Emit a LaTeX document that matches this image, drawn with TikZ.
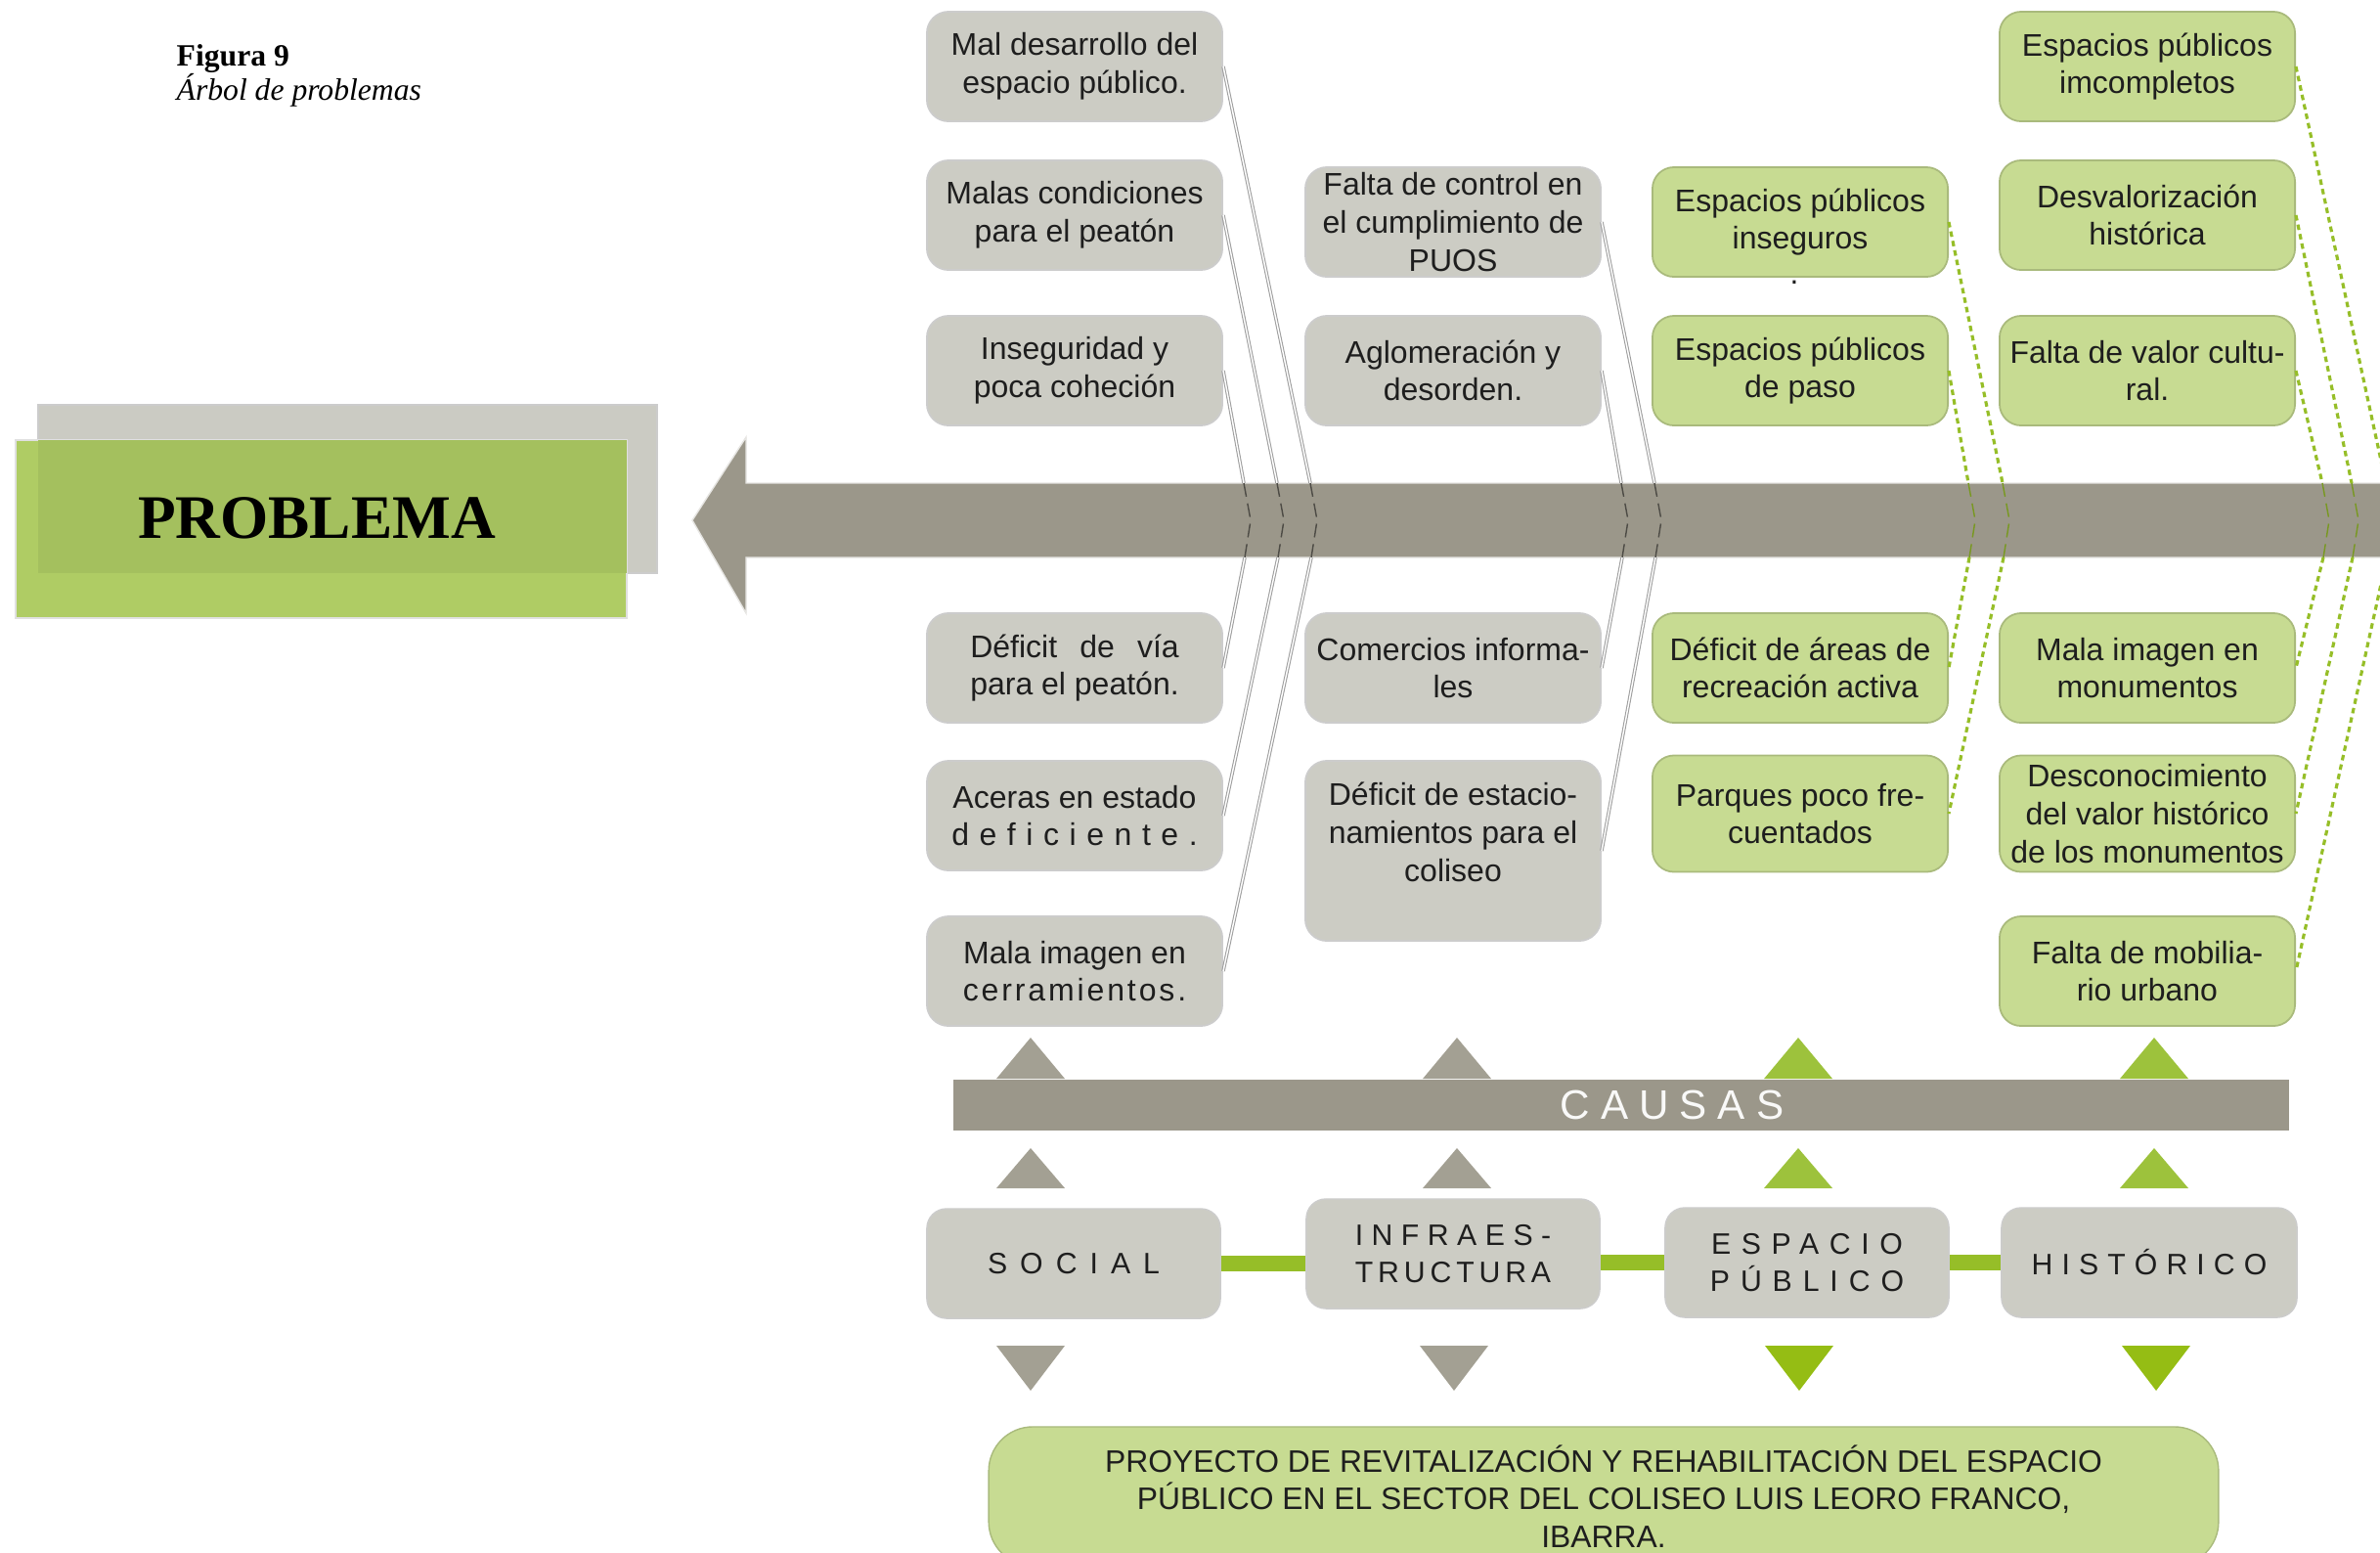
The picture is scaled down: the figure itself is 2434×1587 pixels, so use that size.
\documentclass[tikz,border=0pt]{standalone}
\usepackage{fontspec}
\usepackage{calc}
\setmainfont{Liberation Sans}
\newfontfamily\titlefont{Liberation Serif}

\definecolor{boxgray}{RGB}{204,204,196}
\definecolor{boxgreen}{RGB}{199,219,146}
\definecolor{spine}{RGB}{155,151,138}
\definecolor{trigray}{RGB}{163,160,147}
\definecolor{trigreen}{RGB}{157,194,60}
\definecolor{downgreen}{RGB}{149,189,20}
\definecolor{linkgreen}{RGB}{150,190,40}
\definecolor{probgreen}{RGB}{175,204,100}
\definecolor{probgray}{RGB}{203,203,195}
\definecolor{txt}{RGB}{30,30,30}

\newcommand{\tracked}[2]{{\addfontfeature{LetterSpace=#1}#2}}
\newcommand{\spreadas}[2]{\makebox[\widthof{#1}][s]{#2}}

\tikzset{
	cause/.style={rounded corners=0.22cm, minimum width=3.02cm, minimum height=1.12cm, align=center, inner sep=0pt, text=txt, font=\fontsize{9.1}{11}\selectfont, line width=0.5pt},
	graybox/.style={cause, fill=boxgray, draw=black!20},
	greenbox/.style={cause, fill=boxgreen, draw=boxgreen!85!black},
	area/.style={rounded corners=0.2cm, minimum width=3cm, minimum height=1.12cm, align=center, inner sep=0pt, fill=boxgray, draw=black!20, text=txt, font=\fontsize{8.6}{11}\selectfont},
	gray link/.style={draw=black!38, double=white, double distance=0.4pt, line width=0.3pt},
	gray chev/.style={draw=black!50!spine, line width=0.4pt, dash pattern=on 4pt off 2pt},
	green link/.style={draw=linkgreen, line width=0.9pt, dash pattern=on 1.6pt off 1.2pt},
	green chev/.style={draw=linkgreen!80!black, line width=0.4pt, dash pattern=on 4pt off 2pt},
}

\begin{document}
\begin{tikzpicture}[x=0.01cm, y=-0.01cm]
	\useasboundingbox (0,0) rectangle (2434,1587);

	% titulo
	\node[anchor=base west, inner sep=0pt, font=\titlefont\fontsize{9}{11}\selectfont\bfseries] (fig) at (180,67) {Figura 9};
	\node[anchor=base west, inner sep=0pt, font=\titlefont\fontsize{9}{11}\selectfont\itshape] (cap) at (180,102) {Árbol de problemas};

	% problema
	\fill[probgray, draw=black!20] (39,414) rectangle (672,586);
	\node[fill=probgreen, draw=black!12, minimum width=6.25cm, minimum height=1.82cm, inner sep=0pt] (problema) at (328.5,541) {};
	\fill[probgreen!94!black] (39,450) rectangle (641,586);
	\node[font=\titlefont\fontsize{18}{18}\selectfont\bfseries] (problematxt) at (324,530) {PROBLEMA};

	% flecha
	\fill[spine, draw=white!75!spine, line width=0.4pt] (2440,494) -- (763,494) -- (763,447) -- (708,532) -- (763,627) -- (763,570) -- (2440,570) -- cycle;

	% social
	\node[graybox] (s1) at (1099,68) {Mal desarrollo del\\espacio público.};
	\node[graybox] (s2) at (1099,220) {Malas condiciones\\para el peatón};
	\node[graybox] (s3) at (1099,379) {Inseguridad y\\poca coheción};
	\node[graybox] (s4) at (1099,683) {\spreadas{para el peatón.}{Déficit de vía}\\para el peatón.};
	\node[graybox] (s5) at (1099,834) {Aceras en estado\\\tracked{33}{deficiente.}};
	\node[graybox] (s6) at (1099,993) {Mala imagen en\\\tracked{9}{cerramientos.}};

	% infraestructura
	\node[graybox] (i1) at (1486,227) {Falta de control en\\el cumplimiento de\\PUOS};
	\node[graybox] (i2) at (1486,379) {Aglomeración y\\desorden.};
	\node[graybox] (i3) at (1486,683) {Comercios informa-\\les};
	\node[graybox, minimum height=1.84cm] (i4) at (1486,870) {Déficit de estacio-\\namientos para el\\coliseo\\~};

	% espacio publico
	\node[greenbox] (e1) at (1841,227) {Espacios públicos\\inseguros};
	\node[font=\fontsize{9}{9}\selectfont, text=txt] (dot) at (1835,289) {.};
	\node[greenbox] (e2) at (1841,379) {Espacios públicos\\de paso};
	\node[greenbox] (e3) at (1841,683) {Déficit de áreas de\\recreación activa};
	\node[greenbox, minimum height=1.19cm] (e4) at (1841,832) {Parques poco fre-\\cuentados};

	% historico
	\node[greenbox] (h1) at (2196,68) {Espacios públicos\\imcompletos};
	\node[greenbox] (h2) at (2196,220) {Desvalorización\\histórica};
	\node[greenbox] (h3) at (2196,379) {Falta de valor cultu-\\ral.};
	\node[greenbox] (h4) at (2196,683) {Mala imagen en\\monumentos};
	\node[greenbox, minimum height=1.19cm] (h5) at (2196,832) {Desconocimiento\\del valor histórico\\de los monumentos};
	\node[greenbox] (h6) at (2196,993) {Falta de mobilia-\\rio urbano};

	% espinas
	\foreach \up/\down/\x/\kind in {s3/s4/1272/gray, s2/s5/1306/gray, s1/s6/1340/gray, i2/i3/1658/gray, i1/i4/1692/gray, e2/e3/2013/green, e1/e4/2048/green, h3/h4/2375/green, h2/h5/2405/green, h1/h6/2440/green} {
		\coordinate (t\up) at (\x,494);
		\coordinate (m\up) at (\x+7,532);
		\coordinate (b\up) at (\x+1,570);
		\draw[\kind\space link] (\up.east) -- (t\up);
		\draw[\kind\space chev] (t\up) -- (m\up) -- (b\up);
		\draw[\kind\space link] (b\up) -- (\down.east);
	}

	% causas
	\node[fill=spine, minimum width=13.65cm, minimum height=0.52cm, inner sep=0pt, text=white!94!spine, font=\fontsize{12}{12}\selectfont] (causas) at (1658,1130) {\hspace*{1.04cm}\tracked{26}{CAUSAS}};
	\foreach \cx/\col in {1054/trigray, 1490/trigray, 1839/trigreen, 2203/trigreen} {
		\fill[\col] (\cx-35,1103) -- (\cx,1061) -- (\cx+35,1103) -- cycle;
		\fill[\col] (\cx-35,1215) -- (\cx,1174) -- (\cx+35,1215) -- cycle;
	}
	\foreach \cx/\col in {1054/trigray, 1487/trigray, 1840/downgreen, 2205/downgreen}
		\fill[\col] (\cx-35,1376) -- (\cx+35,1376) -- (\cx,1422) -- cycle;

	% areas
	\node[area] (social) at (1098,1292) {\tracked{43}{SOCIAL}};
	\node[area] (infra) at (1486,1282) {\tracked{28}{INFRAES-}\\\tracked{16}{TRUCTURA}};
	\node[area, minimum width=2.9cm] (espacio) at (1848,1291) {\tracked{35}{ESPACIO}\\\tracked{36}{PÚBLICO}};
	\node[area, minimum width=3.02cm] (historico) at (2198,1291) {\tracked{30}{HISTÓRICO}};
	\draw[linkgreen, line width=0.16cm] (social.east) -- (social.east -| infra.west);
	\draw[linkgreen, line width=0.16cm] (espacio.west) -- (espacio.west -| infra.east);
	\draw[linkgreen, line width=0.16cm] (espacio.east) -- (historico.west);

	% proyecto
	\node[fill=boxgreen, draw=boxgreen!85!black, rounded corners=0.45cm, minimum width=12.57cm, minimum height=1.42cm, align=center, inner sep=0pt, text=txt, font=\fontsize{9.05}{11}\selectfont] (proyecto) at (1640,1530) {PROYECTO DE REVITALIZACIÓN Y REHABILITACIÓN DEL ESPACIO\\PÚBLICO EN EL SECTOR DEL COLISEO LUIS LEORO FRANCO,\\IBARRA.};
\end{tikzpicture}
\end{document}
